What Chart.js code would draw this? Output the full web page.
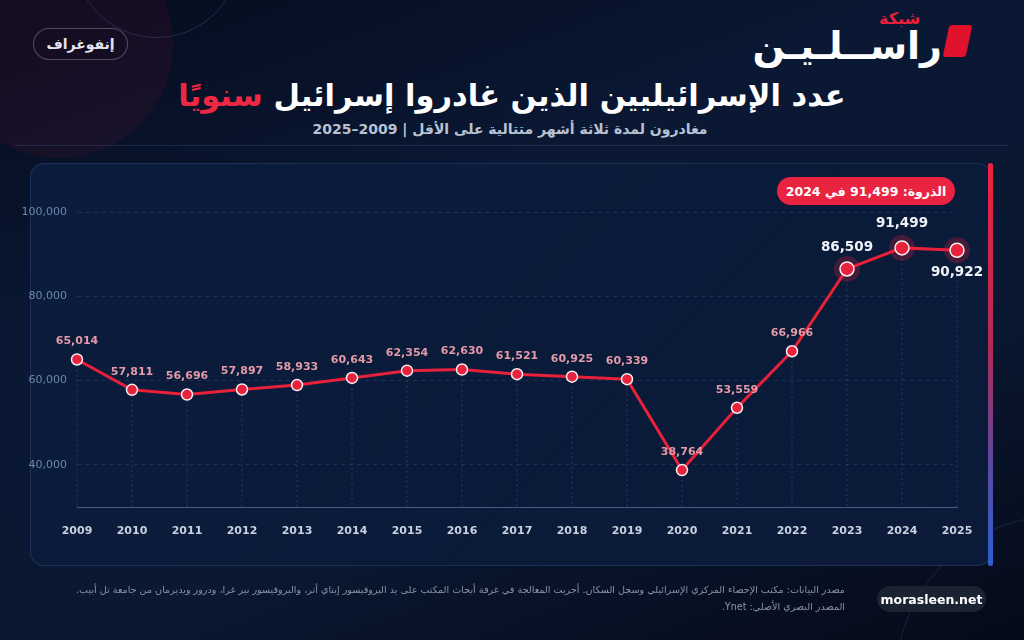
<!DOCTYPE html>
<html lang="ar">
<head>
<meta charset="utf-8">
<script src="https://cdn.jsdelivr.net/npm/chart.js@4.4.1/dist/chart.umd.min.js"></script>
<style>
  html,body{margin:0;padding:0;}
  body{width:1024px;height:640px;overflow:hidden;position:relative;
    background:linear-gradient(160deg,#050b1c 0%,#0a1834 35%,#0a1832 65%,#050a18 100%);
    font-family:"DejaVu Sans","Noto Sans",sans-serif;}
  .abs{position:absolute;}
  #blob{left:-55px;top:-70px;width:228px;height:228px;border-radius:50%;background:rgba(110,20,50,0.16);}
  #ring1{left:73px;top:-129px;width:167px;height:167px;border-radius:50%;border:1px solid rgba(70,100,170,0.35);box-sizing:border-box;}
  #ring2{left:895px;top:515px;width:330px;height:330px;border-radius:50%;border:1px solid rgba(70,100,170,0.25);box-sizing:border-box;}
  #pill{left:33px;top:28px;width:95px;height:32px;border-radius:16px;border:1px solid rgba(190,195,215,0.35);box-sizing:border-box;
    background:rgba(20,14,32,0.55);color:#e4e7ef;font-weight:bold;font-size:14px;display:flex;align-items:center;justify-content:center;direction:rtl;}
  #logoTop{left:879px;top:9px;color:#e8203a;font-weight:bold;font-size:16px;direction:rtl;}
  #logo{left:730px;top:20px;width:212px;text-align:right;color:#ffffff;font-weight:900;font-size:38px;line-height:52px;direction:rtl;letter-spacing:1px;}
  #logoMark{left:946px;top:25px;width:23px;height:32px;background:#e0112b;transform:skewX(-12deg);border-radius:3px;}
  #title{left:0;width:1024px;top:78px;text-align:center;color:#ffffff;font-weight:bold;font-size:30.5px;direction:rtl;}
  #title span{color:#ee2843;}
  #sub{left:0;width:1020px;top:121px;text-align:center;color:#b9c2d3;font-weight:bold;font-size:14px;direction:rtl;}
  #sep{left:15px;top:145px;width:993px;height:1px;background:rgba(60,90,140,0.35);}
  #panel{left:30px;top:163px;width:962px;height:403px;border-radius:14px;box-sizing:border-box;
    background:linear-gradient(135deg,#0b1c3c 0%,#0a1b3a 60%,#0b1a38 100%);border:1px solid rgba(60,90,140,0.35);}
  #bar{left:988px;top:163px;width:5px;height:403px;border-radius:3px;background:linear-gradient(180deg,#ee2240 0%,#b02b55 45%,#5a4aa0 75%,#2b5fd0 100%);}
  #badge{left:777px;top:177px;width:178px;height:28px;border-radius:14px;background:#ea2340;color:#fff;font-weight:bold;font-size:12.5px;
    display:flex;align-items:center;justify-content:center;direction:rtl;}
  #src{right:179px;top:581px;width:800px;text-align:right;color:#8a94a8;font-size:9.6px;line-height:17px;direction:rtl;white-space:nowrap;}
  #site{left:877px;top:586px;width:109px;height:26px;border-radius:13px;background:#1b2333;color:#fff;font-weight:bold;font-size:12.5px;
    display:flex;align-items:center;justify-content:center;}
  #chartWrap{left:0;top:0;width:1024px;height:640px;}
</style>
</head>
<body>
<div id="blob" class="abs"></div>
<div id="ring1" class="abs"></div>
<div id="ring2" class="abs"></div>
<div id="pill" class="abs">إنفوغراف</div>
<div id="logoTop" class="abs">شبكة</div>
<div id="logo" class="abs">راســلـيـن</div>
<div id="logoMark" class="abs"></div>
<div id="title" class="abs">عدد الإسرائيليين الذين غادروا إسرائيل <span>سنويًا</span></div>
<div id="sub" class="abs">مغادرون لمدة ثلاثة أشهر متتالية على الأقل | 2009–2025</div>
<div id="sep" class="abs"></div>
<div id="panel" class="abs"></div>
<div id="bar" class="abs"></div>
<div id="chartWrap" class="abs"><canvas id="c" width="1024" height="640"></canvas></div>
<div id="badge" class="abs"></div>
<div id="src" class="abs">مصدر البيانات: مكتب الإحصاء المركزي الإسرائيلي وسجل السكان. أجريت المعالجة في غرفة أبحاث المكتب على يد البروفيسور إيتاي أتر، والبروفيسور نير غرا، ودرور ويديرمان من جامعة تل أبيب.<br>المصدر البصري الأصلي: Ynet.</div>
<div id="site" class="abs">morasleen.net</div>
<script>
const years = ["2009","2010","2011","2012","2013","2014","2015","2016","2017","2018","2019","2020","2021","2022","2023","2024","2025"];
const leavers = [65014,57811,56696,57897,58933,60643,62354,62630,61521,60925,60339,38764,53559,66966,86509,91499,90922];
const yTicks = [40000,60000,80000,100000];

const fmt = v => v.toLocaleString('en-US');
const peakVal = Math.max(...leavers);
const peakYear = years[leavers.indexOf(peakVal)];
document.getElementById('badge').textContent = 'الذروة: ' + fmt(peakVal) + ' في ' + peakYear;

const nHi = 3;
const hiStart = leavers.length - nHi;

const decor = {
  id:'decor',
  beforeDatasetsDraw(chart){
    const ctx = chart.ctx, meta = chart.getDatasetMeta(0), bottom = chart.chartArea.bottom;
    ctx.save();
    ctx.strokeStyle = 'rgba(95,125,175,0.35)';
    ctx.lineWidth = 1;
    ctx.setLineDash([2,3]);
    meta.data.forEach(p=>{
      ctx.beginPath(); ctx.moveTo(p.x, p.y); ctx.lineTo(p.x, bottom); ctx.stroke();
    });
    ctx.setLineDash([]);
    meta.data.forEach((p,i)=>{
      if(i>=hiStart){
        ctx.beginPath(); ctx.arc(p.x,p.y,13,0,Math.PI*2);
        ctx.fillStyle='rgba(140,30,60,0.45)'; ctx.fill();
      }
    });
    ctx.restore();
  },
  afterDatasetsDraw(chart){
    const ctx = chart.ctx, meta = chart.getDatasetMeta(0);
    ctx.save();
    ctx.textAlign='center'; ctx.textBaseline='middle';
    meta.data.forEach((p,i)=>{
      const txt = fmt(leavers[i]);
      if(i>=hiStart){
        ctx.font='bold 13.5px "DejaVu Sans"';
        ctx.fillStyle='#f1f3f8';
        const last = i===leavers.length-1;
        const dy = last ? 22 : (leavers[i]===peakVal ? -24 : -21);
        ctx.fillText(txt, p.x, p.y+dy);
      } else {
        ctx.font='bold 11px "DejaVu Sans"';
        ctx.fillStyle='#e59aa8';
        ctx.fillText(txt, p.x, p.y-18);
      }
    });
    ctx.restore();
  }
};

new Chart(document.getElementById('c'),{
  type:'line',
  data:{labels:years,datasets:[{
    data:leavers,
    borderColor:'#e8203a',borderWidth:3,tension:0,
    pointBackgroundColor:'#e8223c',pointBorderColor:'#f4f0f2',pointBorderWidth:1.5,
    pointRadius:leavers.map((v,i)=>i>=hiStart?7:5.5)
  }]},
  options:{
    responsive:false,animation:false,devicePixelRatio:1,
    layout:{padding:{left:0,right:67,top:191,bottom:0}},
    plugins:{legend:{display:false},tooltip:{enabled:false}},
    scales:{
      x:{
        offset:false,
        grid:{display:false},
        border:{display:true,color:'rgba(110,135,180,0.6)',width:1},
        ticks:{color:'#c9d0de',font:{family:'DejaVu Sans',size:11,weight:'bold'},padding:10,maxRotation:0},
        afterFit(s){s.height=133;}
      },
      y:{
        min:30000,max:105000,
        afterBuildTicks(s){s.ticks=yTicks.map(v=>({value:v}));},
        grid:{color:'rgba(70,100,150,0.28)',drawTicks:false},
        border:{display:false,dash:[4,4]},
        ticks:{color:'#6d87ae',font:{family:'DejaVu Sans',size:11},padding:10,callback:v=>fmt(v)},
        afterFit(s){s.width=77;}
      }
    }
  },
  plugins:[decor]
});
</script>
</body>
</html>
